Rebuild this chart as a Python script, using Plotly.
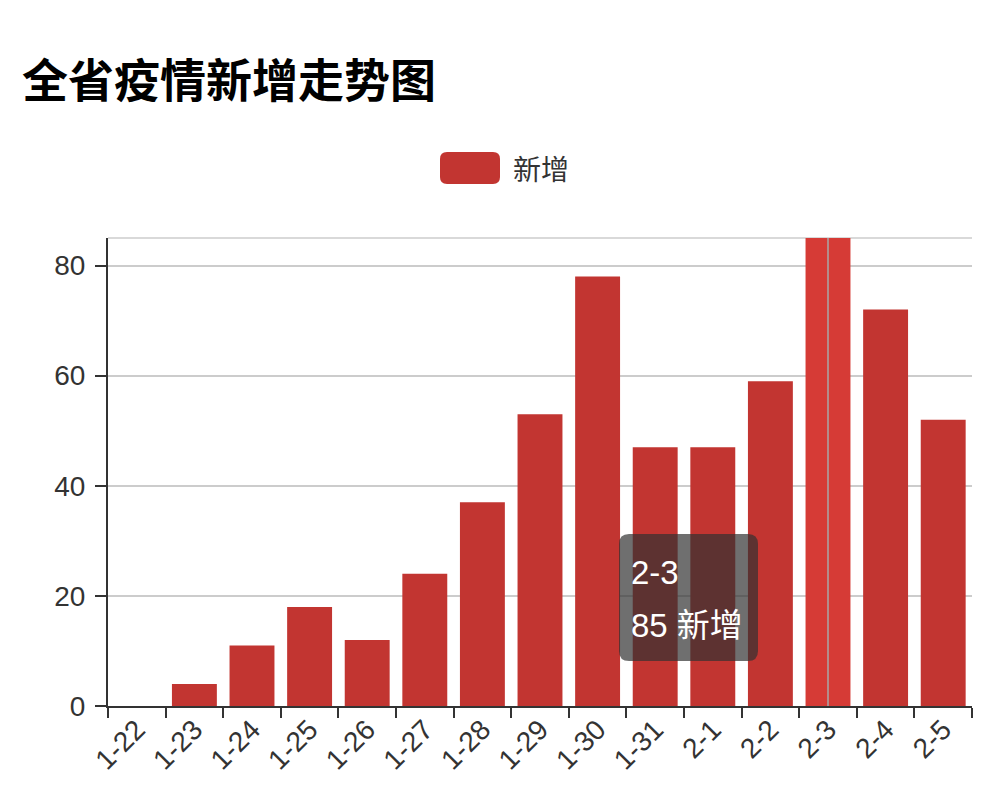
import plotly.graph_objects as go

# data
days = ['1-22', '1-23', '1-24', '1-25', '1-26', '1-27', '1-28', '1-29',
        '1-30', '1-31', '2-1', '2-2', '2-3', '2-4', '2-5']
new_cases = [0, 4, 11, 18, 12, 24, 37, 53, 78, 47, 47, 59, 85, 72, 52]
y_ticks = [0, 20, 40, 60, 80]
hover_day = '2-3'

BAR = '#c23531'
BAR_HOVER = '#d63b36'
FONT = 'Liberation Sans, Noto Sans CJK SC, sans-serif'
CJK = 'Noto Sans CJK SC, sans-serif'

# page is drawn with an 8px body margin, so the figure is shifted
OFF = 8
W, H = 1000 - OFF, 786 - OFF
# plot area in page pixels, used to place the decorations
L, R, T, B = 108, 972, 238, 706


def px(x):
    return (x - L) / (R - L)


def py(y):
    return (B - y) / (B - T)


def round_rect(x0, y0, x1, y1, r):
    # rounded rectangle given in page pixels, returned as paper path
    pts = [
        ('M', px(x0 + r), py(y0)),
        ('L', px(x1 - r), py(y0)),
        ('Q', px(x1), py(y0), px(x1), py(y0 + r)),
        ('L', px(x1), py(y1 - r)),
        ('Q', px(x1), py(y1), px(x1 - r), py(y1)),
        ('L', px(x0 + r), py(y1)),
        ('Q', px(x0), py(y1), px(x0), py(y1 - r)),
        ('L', px(x0), py(y0 + r)),
        ('Q', px(x0), py(y0), px(x0 + r), py(y0)),
    ]
    out = ''
    for p in pts:
        out += p[0] + ' ' + ' '.join('%.5f' % v for v in p[1:]) + ' '
    return out + 'Z'


colors = [BAR_HOVER if d == hover_day else BAR for d in days]

fig = go.Figure()
fig.add_trace(go.Bar(x=days, y=new_cases, name='新增',
                     marker=dict(color=colors, line=dict(width=0)),
                     hoverinfo='skip'))

# axis pointer line through the hovered bar
fig.add_shape(type='line', xref='x', yref='y domain', x0=hover_day, x1=hover_day,
              y0=0, y1=1, line=dict(color='#a9a9a9', width=1.5), layer='above')
# top split line at the axis max
fig.add_shape(type='line', xref='paper', yref='y domain', x0=0, x1=1, y0=1, y1=1,
              line=dict(color='#cccccc', width=1.5), layer='below')

# legend drawn by hand (rounded icon)
fig.add_shape(type='path', xref='paper', yref='paper',
              path=round_rect(440, 152, 500, 184, 7),
              fillcolor=BAR, line=dict(width=0))
fig.add_annotation(xref='paper', yref='paper', x=px(511), y=py(168),
                   text='新增', showarrow=False, xanchor='left', yanchor='middle',
                   font=dict(family=CJK, size=28, color='#333333'))

# tooltip
fig.add_shape(type='path', xref='paper', yref='paper',
              path=round_rect(619, 534, 758, 661, 10),
              fillcolor='rgba(50,50,50,0.7)', line=dict(width=0), layer='above')
fig.add_annotation(xref='paper', yref='paper', x=px(629), y=py(572),
                   text=hover_day, showarrow=False, xanchor='left', yanchor='middle',
                   font=dict(family=FONT, size=33, color='#ffffff'))
fig.add_annotation(xref='paper', yref='paper', x=px(629), y=py(625),
                   text='%d 新增' % new_cases[days.index(hover_day)],
                   showarrow=False, xanchor='left', yanchor='middle',
                   font=dict(family=FONT, size=33, color='#ffffff'))

fig.update_layout(
    width=W, height=H,
    margin=dict(l=L - OFF, r=W - (R - OFF), t=T - OFF, b=H - (B - OFF),
                autoexpand=False),
    paper_bgcolor='white', plot_bgcolor='white',
    showlegend=False, bargap=0.22,
    title=dict(text='<b>全省疫情新增走势图</b>', x=(22 - OFF) / W, xanchor='left',
               y=1 - (81 - OFF) / H, yanchor='middle',
               font=dict(family=CJK, size=46, color='#000000')),
)
fig.update_xaxes(type='category', showgrid=False, zeroline=False,
                 showline=True, linecolor='#333333', linewidth=2,
                 ticks='outside', tickson='boundaries', ticklen=10,
                 tickwidth=2, tickcolor='#333333', tickangle=-45,
                 ticklabelstandoff=-6,
                 tickfont=dict(family=FONT, size=28, color='#333333'),
                 automargin=False)
fig.update_yaxes(range=[0, 85], tickvals=y_ticks, showgrid=True,
                 gridcolor='#cccccc', gridwidth=1.5, zeroline=False,
                 showline=True, linecolor='#333333', linewidth=2,
                 ticks='outside', ticklen=11, tickwidth=2, tickcolor='#333333',
                 ticklabelstandoff=4,
                 tickfont=dict(family=FONT, size=28, color='#333333'),
                 automargin=False)

fig.write_html('out.html')
